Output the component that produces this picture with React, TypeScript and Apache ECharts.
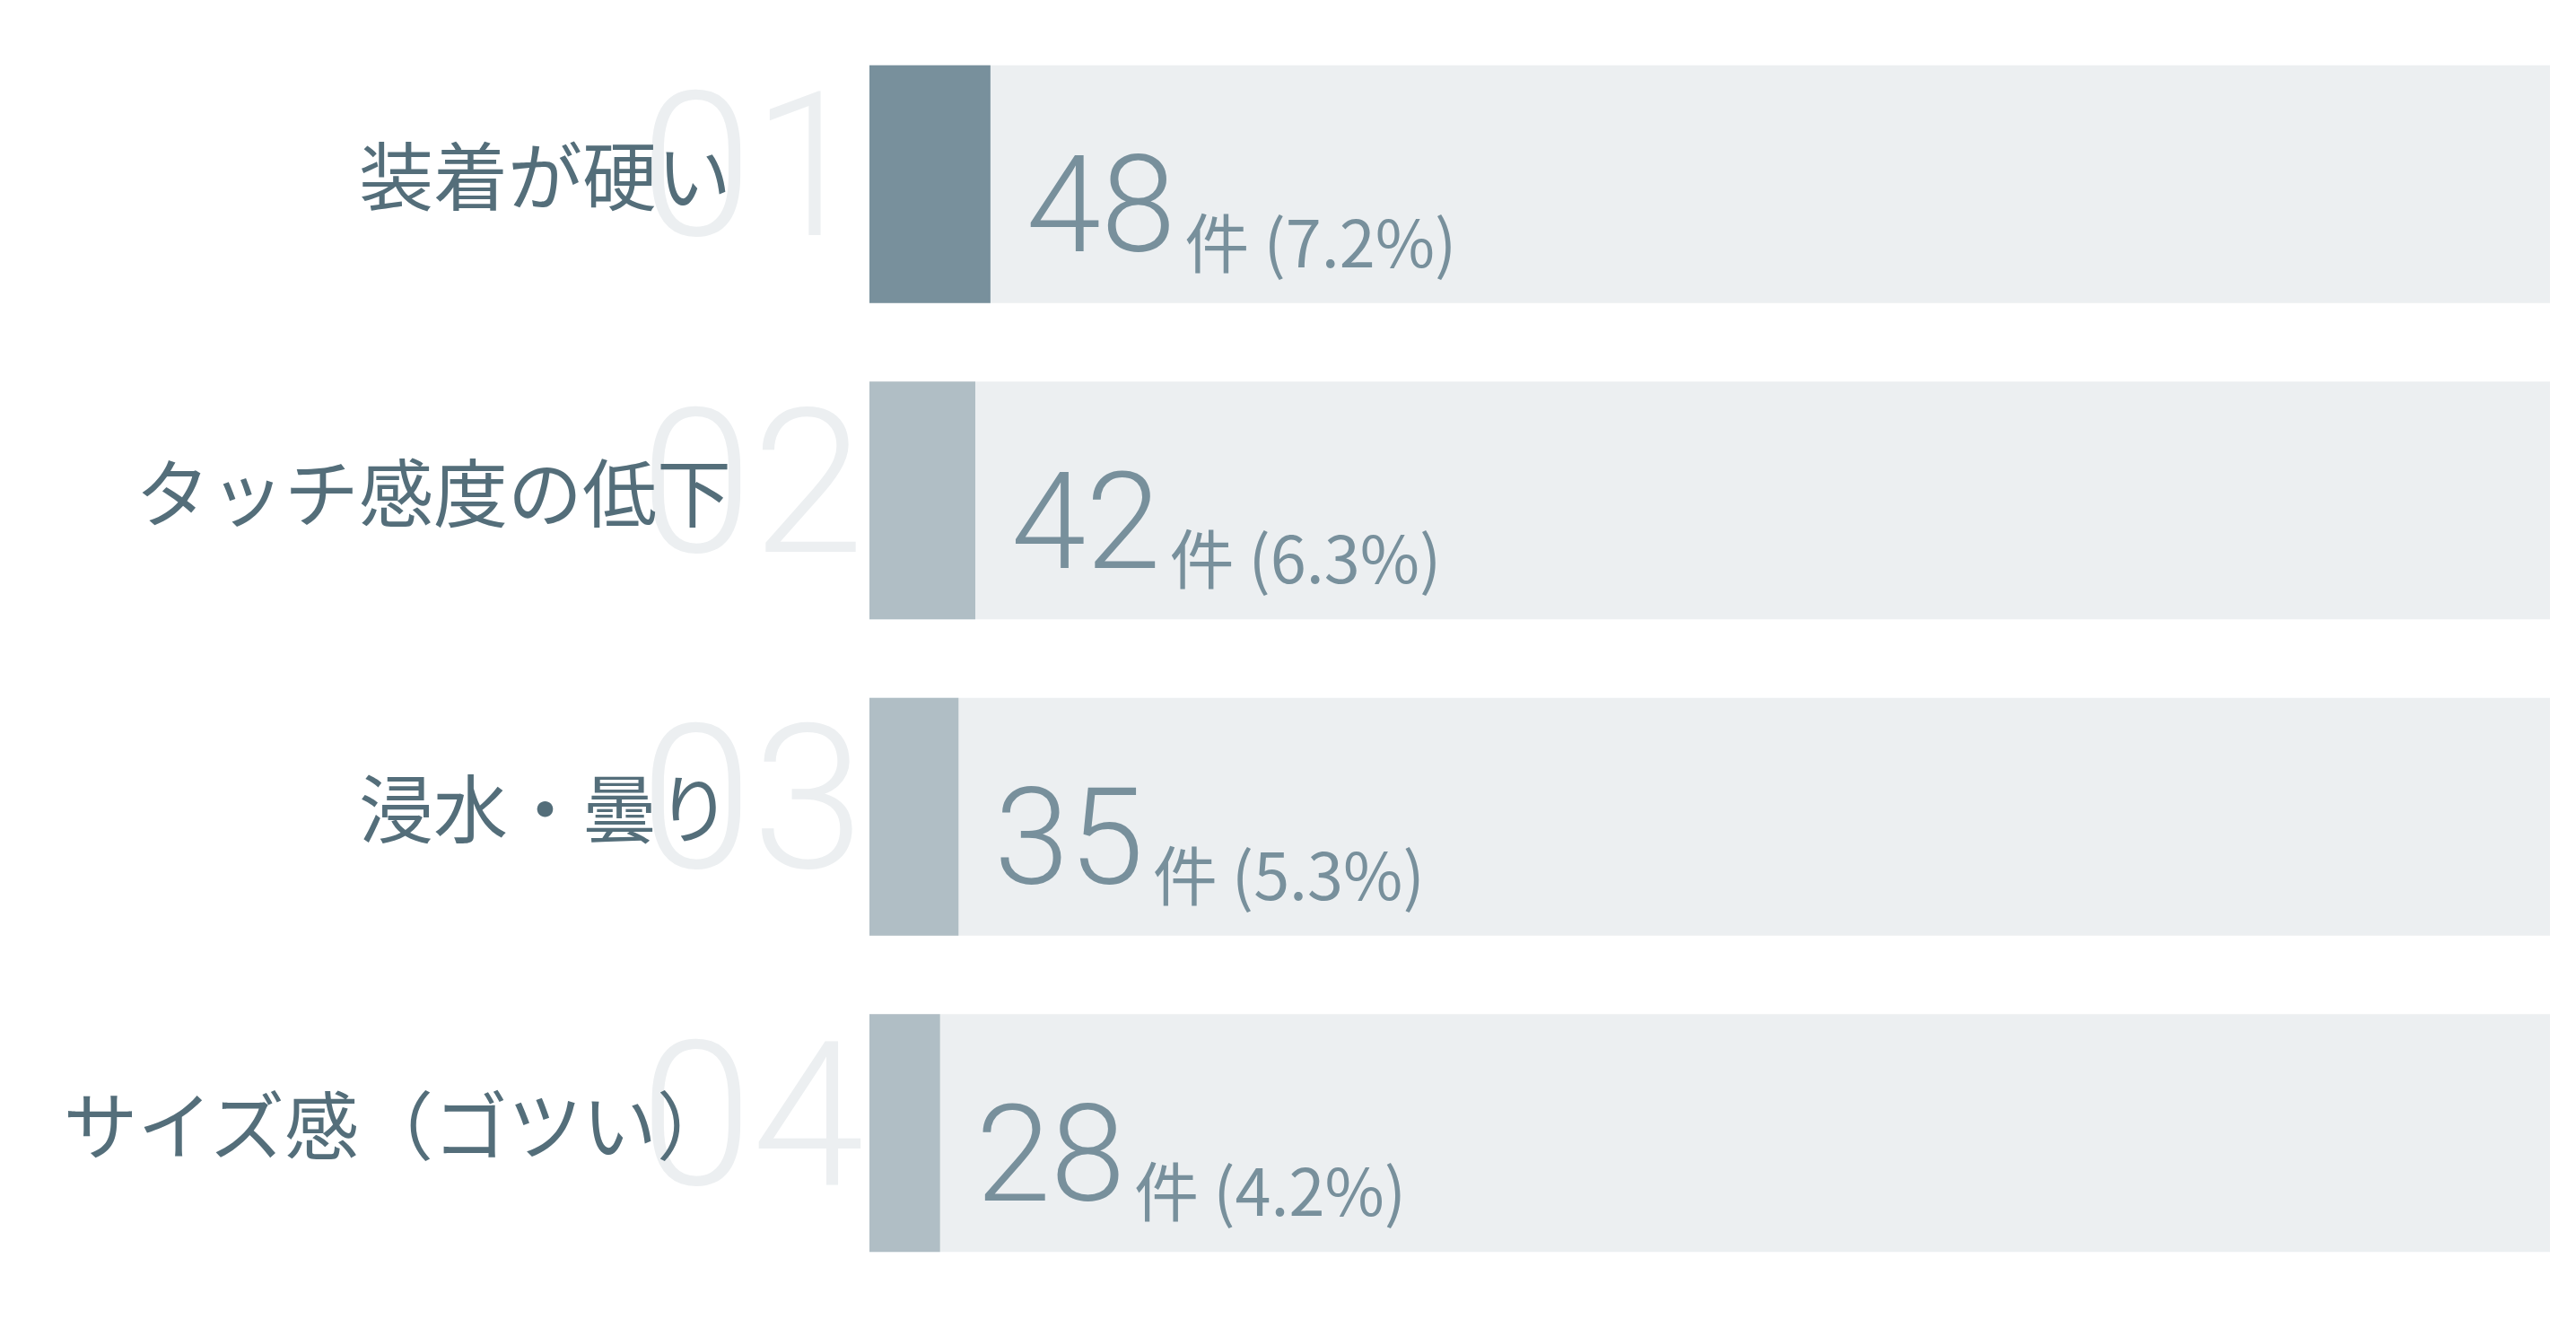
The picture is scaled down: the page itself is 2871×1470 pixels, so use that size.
import React, { useEffect, useRef } from "react";
import * as echarts from "echarts";

const categories = ["装着が硬い", "タッチ感度の低下", "浸水・曇り", "サイズ感（ゴツい）"];
const ranks = ["01", "02", "03", "04"];
const counts = [48, 42, 35, 28];
const percents = [7.2, 6.3, 5.3, 4.2];

const JP = "'Noto Sans CJK JP', sans-serif";

const App: React.FC = () => {
  const chartRef = useRef<HTMLDivElement>(null);

  useEffect(() => {
    if (!chartRef.current) return;
    const chart = echarts.init(chartRef.current, null, { renderer: "svg" });

    const option = {
      animation: false,
      backgroundColor: "#ffffff",
      grid: { left: 961, right: 21, top: 21, bottom: 23, containLabel: false },
      xAxis: { type: "value", min: 0, max: 100, show: false },
      yAxis: [
        {
          type: "category",
          data: categories,
          inverse: true,
          position: "left",
          z: 3,
          axisLine: { show: false },
          axisTick: { show: false },
          splitLine: { show: false },
          axisLabel: {
            fontSize: 83,
            color: "#546e7a",
            fontFamily: JP,
            margin: 154,
            verticalAlign: "bottom",
            lineHeight: 26,
          },
        },
        {
          type: "category",
          data: ranks,
          inverse: true,
          position: "left",
          z: 1,
          axisLine: { show: false },
          axisTick: { show: false },
          splitLine: { show: false },
          axisLabel: {
            fontSize: 225,
            color: "#eceff1",
            fontFamily: "Roboto",
            fontWeight: 300,
            margin: 6,
            verticalAlign: "bottom",
            lineHeight: 40,
          },
        },
      ],
      series: [
        {
          type: "bar",
          yAxisIndex: 0,
          barWidth: 265,
          showBackground: true,
          backgroundStyle: { color: "#eceff1" },
          data: percents.map((v, i) => ({
            value: v,
            itemStyle: { color: i === 0 ? "#78909c" : "#b0bec5" },
          })),
          label: {
            show: true,
            position: "right",
            distance: 40,
            offset: [0, 24],
            formatter: (p: any) =>
              `{num|${counts[p.dataIndex]}}{unit|件 (${percents[p.dataIndex]}%)}`,
            rich: {
              num: {
                fontSize: 150,
                fontFamily: "Roboto",
                fontWeight: 300,
                color: "#78909c",
                verticalAlign: "bottom",
                lineHeight: 150,
              },
              unit: {
                fontSize: 72,
                fontFamily: JP,
                color: "#78909c",
                verticalAlign: "bottom",
                lineHeight: 72,
                padding: [0, 0, 2, 10],
              },
            },
          },
        },
      ],
    };

    chart.setOption(option);
    const onResize = () => chart.resize();
    window.addEventListener("resize", onResize);
    return () => {
      window.removeEventListener("resize", onResize);
      chart.dispose();
    };
  }, []);

  return <div ref={chartRef} style={{ width: "2855px", height: "1454px" }} />;
};

export default App;
